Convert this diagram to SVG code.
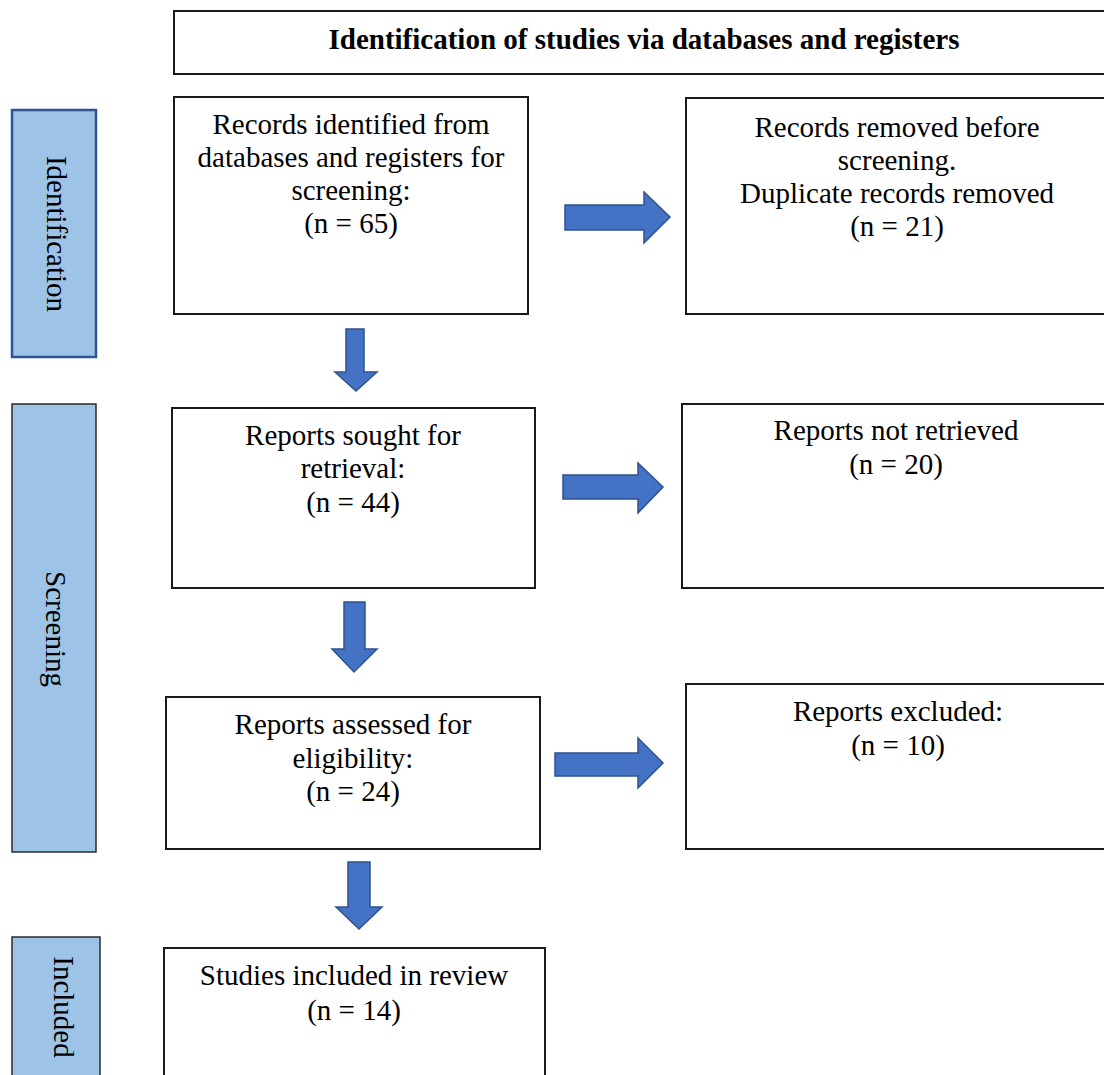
<svg xmlns="http://www.w3.org/2000/svg" width="1104" height="1075" viewBox="0 0 1104 1075">
<style>
.box{fill:#fff;stroke:#1a1a1a;stroke-width:2}
.side{fill:#9DC3E6;stroke:#2b2b2b;stroke-width:1.5}
.sideb{fill:#9DC3E6;stroke:#2F5597;stroke-width:2.5}
.t{font-family:"Liberation Serif","Times New Roman",serif;font-size:29px;fill:#000;text-anchor:middle}
.h{font-weight:bold}
.arr{fill:#4472C4;stroke:#2F528F;stroke-width:1.5}
</style>
<rect width="1104" height="1075" fill="#fff"/>
<g id="header"><rect class="box" x="174" y="11" width="945" height="63"/><text class="t h" x="644" y="49">Identification of studies via databases and registers</text></g>
<g id="side-identification"><rect class="sideb" x="12" y="110" width="84" height="247"/><text class="t" transform="translate(47,234) rotate(90)">Identification</text></g>
<g id="side-screening"><rect class="side" x="12" y="404" width="84" height="448"/><text class="t" transform="translate(46,629) rotate(90)">Screening</text></g>
<g id="side-included"><rect class="side" x="12" y="937" width="88" height="150"/><text class="t" transform="translate(54,1007) rotate(90)">Included</text></g>
<g id="records-identified"><rect class="box" x="174" y="97" width="354" height="217"/><text class="t" x="351" y="134">Records identified from</text><text class="t" x="351" y="167">databases and registers for</text><text class="t" x="351" y="200">screening:</text><text class="t" x="351" y="233">(n = 65)</text></g>
<g id="records-removed"><rect class="box" x="686" y="98" width="430" height="216"/><text class="t" x="897" y="137">Records removed before</text><text class="t" x="897" y="170">screening.</text><text class="t" x="897" y="203">Duplicate records removed</text><text class="t" x="897" y="236">(n = 21)</text></g>
<g id="reports-sought"><rect class="box" x="172" y="408" width="363" height="180"/><text class="t" x="353" y="445">Reports sought for</text><text class="t" x="353" y="478">retrieval:</text><text class="t" x="353" y="512">(n = 44)</text></g>
<g id="reports-not-retrieved"><rect class="box" x="682" y="404" width="430" height="184"/><text class="t" x="896" y="440">Reports not retrieved</text><text class="t" x="896" y="474">(n = 20)</text></g>
<g id="reports-assessed"><rect class="box" x="166" y="697" width="374" height="152"/><text class="t" x="353" y="734">Reports assessed for</text><text class="t" x="353" y="768">eligibility:</text><text class="t" x="353" y="801">(n = 24)</text></g>
<g id="reports-excluded"><rect class="box" x="686" y="684" width="430" height="165"/><text class="t" x="898" y="721">Reports excluded:</text><text class="t" x="898" y="755">(n = 10)</text></g>
<g id="studies-included"><rect class="box" x="164" y="948" width="381" height="140"/><text class="t" x="354" y="985">Studies included in review</text><text class="t" x="354" y="1020">(n = 14)</text></g>
<g id="connectors">
<polygon class="arr" points="346,329 364,329 364,372 377,372 356,391 335,372 346,372"/>
<polygon class="arr" points="344,602 365,602 365,649 377,649 354,672 332,649 344,649"/>
<polygon class="arr" points="348,862 370,862 370,907 382,907 359,929 336,907 348,907"/>
<polygon class="arr" points="565,205 644,205 644,192 670,217 644,243 644,230 565,230"/>
<polygon class="arr" points="563,475 638,475 638,463 663,487 638,513 638,499 563,499"/>
<polygon class="arr" points="555,753 638,753 638,738 663,763 638,788 638,776 555,776"/>
</g>
</svg>
